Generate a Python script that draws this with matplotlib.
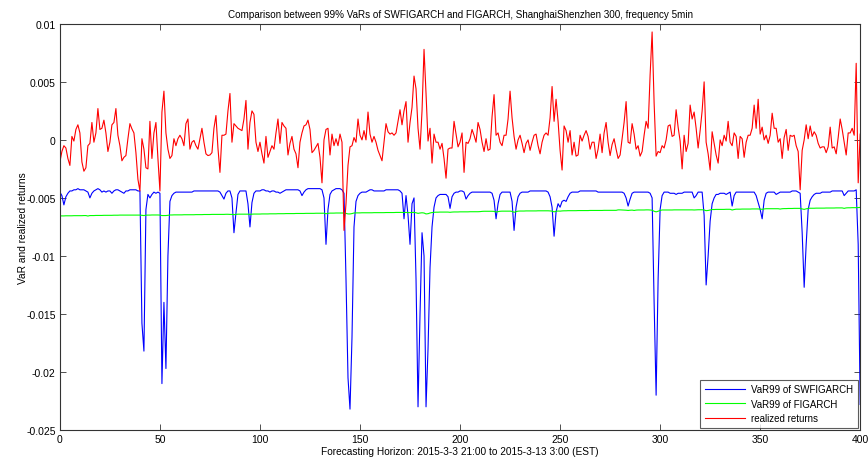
import numpy as np
import matplotlib
matplotlib.use("Agg")
import matplotlib.pyplot as plt

# --- data (values in units of 1e-3) ---
realized_returns = [
    -1.9, -1.0, -0.5, -0.7, -1.6, -2.2, 0.3, -0.1, 0.9, 1.3,
    0.6, -1.9, -2.7, -2.4, -0.5, -0.3, 1.5, -0.2, 0.6, 2.7,
    0.9, 1.0, 1.7, 0.6, -1.0, -0.2, 1.3, 1.5, 2.7, 0.4,
    -0.5, -1.8, -1.5,
    -1.35, 0.1, 1.4, 0.95, 0.6, -1.1, -3.4, -4.4, 0.1, -0.8,
    -2.4, -2.5, 1.6, -1.6, 0.6, 1.5, -1.6, -4.4, 2.4, 4.2,
    0.6, -0.8, -1.6, -1.35, 0.1, -0.5, 0.1, 0.4, 0.1, -0.5,
    1.4, 1.8, -0.8, -0.2, -0.05,
    -0.5, -0.8, 0.1, 1.0, -0.2, -1.2, -1.35, -1.3, -1.1, 1.0,
    2.1, -0.7, -2.8, 0.4, 0.4, 0.5, 2.5, 4.0, -0.2, 1.4,
    1.2, 1.0, 0.9, 0.8, 1.8, 3.4, -0.8, 1.5, 2.5, 2.2,
    -0.2, -1.0, -0.2,
    -1.2, -2.0, 0.3, -1.5, -1.0, -0.5, -0.8, 0.6, 1.8, -0.3,
    1.5, 1.2, 1.0, -1.3, -0.3, 0.3, -0.8, -1.2, -2.4, -0.2,
    0.6, 1.2, 1.3, 1.7, 0.9, -1.1, -0.9, -0.6, -0.3, -1.5,
    -3.7, 0.0, 0.9, 1.0,
    -1.3, 0.5, -0.5, 0.1, -0.5, 0.5, -0.2, -7.8, -5.5, -2.2,
    -0.6, -0.5, 0.2, -0.2, 1.8, 0.4, 0.0, 0.8, 0.0, 2.4,
    0.5, -0.2, 0.3, -0.2, -0.9, -1.35, -1.8, -0.2, 1.4, 0.7,
    0.5, 0.6, 0.4,
    0.6, 1.6, 2.6, 1.3, 2.5, 3.3, -0.2, 1.5, 2.8, 5.5,
    4.4, 1.0, -0.8, 2.5, 7.8, 4.0, -0.1, 1.0, -2.0, 0.5,
    -0.2, -0.2, -0.8, -0.3, -1.6, -3.3, -0.8, -0.7, -0.7, 1.6,
    0.5, -0.6, -0.2, 0.6,
    -2.8, -0.2, -0.3, 0.1, 0.9, 0.4, -0.2, 1.5, 0.9, -0.2,
    -1.0, 0.1, -0.9, -0.8, 2.0, 3.9, 0.4, 0.6, -0.2, -0.5,
    0.4, 0.4, 1.8, 4.2, 1.9, 0.3, -0.8, 0.0, 0.4, -0.3,
    -1.1, -0.3, 0.0,
    -0.9, -0.2, 0.4, 0.5, -0.5, -1.2, -0.2, 0.4, 0.6, 0.4,
    1.9, 4.6, 1.6, 3.5, 1.6, -0.9, -2.6, 1.2, 0.8, -0.2,
    0.8, -1.3, -0.2, -1.4, -1.3, 0.4, -0.1, 0.4, 0.8, 0.3,
    -0.8, -0.2, -0.2, -1.6,
    -0.8, 0.5, -1.1, 0.6, 1.5, -0.2, -1.35, -0.4, 0.1, -0.8,
    -1.6, -1.3, 0.1, 1.5, 3.3, -0.2, -0.3, 1.4, 0.5, -0.8,
    -0.5, -1.4, -1.0, 0.4, 1.6, 1.0, 5.6, 9.3, 3.2, -1.4,
    -1.0, -1.1, -0.5,
    -0.7, 0.0, 1.2, 1.3, 0.3, 0.4, 2.6, 1.1, -0.1, -2.5,
    0.4, -1.0, -0.3, 3.0, 1.8, 2.4, 1.0, -0.7, 0.8, 2.5,
    5.0, -0.2, -1.2, -2.6, 0.7, -0.3, -1.3, -2.0, 0.0, -0.5,
    0.4, -0.1, 1.6, -0.2,
    -0.5, 0.6, 0.3, -1.6, 0.3, 0.1, -1.5, -0.2, 0.4, 0.4,
    1.0, 3.0, 1.0, 3.5, 0.5, 1.1, 0.0, 0.4, -0.3, 0.4,
    2.3, 1.0, 1.0, -0.2, 0.1, -1.6, 0.2, 0.9, -0.9, 0.4,
    0.3, 0.4, -0.5,
    -1.0, -4.3, -0.9, 0.0, 1.3, 0.1, 1.2, 0.3, 0.7, 0.4,
    -0.3, -0.7, -0.6, -0.6, -1.1, -0.6, 1.1, -0.7, -0.6, -1.2,
    0.2, 1.8, 0.9, -0.2, -1.3, 0.6, 0.6, 1.0, 0.4, 6.6,
    -3.7, 0.5,
]

var_swfigarch = [
    -4.5, -4.8, -5.6, -4.9, -4.6, -4.4, -4.4, -4.3, -4.3, -4.2,
    -4.3, -4.3, -4.3, -4.4, -4.5, -5.0, -4.6, -4.4, -4.3, -4.2,
    -4.3, -4.5, -4.4, -4.5, -4.4, -4.4, -4.6, -4.4, -4.3, -4.3,
    -4.4, -4.5, -4.6,
    -4.4, -4.4, -4.3, -4.3, -4.3, -4.3, -4.4, -4.4, -15.8, -18.2,
    -6.0, -4.7, -5.0, -4.7, -4.5, -4.6, -4.5, -4.6, -21.0, -14.0,
    -19.7, -10.0, -5.3, -4.8, -4.6, -4.5, -4.5, -4.5, -4.5, -4.5,
    -4.5, -4.5, -4.5, -4.5, -4.4,
    -4.4, -4.4, -4.4, -4.4, -4.4, -4.4, -4.4, -4.4, -4.4, -4.4,
    -4.4, -4.4, -4.5, -4.8, -5.1, -4.6, -4.4, -4.4, -5.0, -8.0,
    -6.3, -4.7, -4.4, -4.4, -4.4, -4.4, -5.5, -7.5, -5.4, -4.6,
    -4.4, -4.4, -4.4,
    -4.3, -4.3, -4.4, -4.4, -4.5, -4.4, -4.4, -4.5, -4.5, -4.6,
    -4.5, -4.4, -4.3, -4.3, -4.3, -4.3, -4.3, -4.3, -4.3, -4.4,
    -4.8, -4.5, -4.3, -4.2, -4.2, -4.2, -4.2, -4.2, -4.2, -4.2,
    -4.3, -5.0, -9.0, -6.0,
    -4.7, -4.4, -4.3, -4.2, -4.2, -4.2, -4.3, -4.6, -12.0, -20.5,
    -23.2, -17.0, -7.5, -5.3, -4.8, -4.6, -4.5, -4.5, -4.5, -4.4,
    -4.3, -4.3, -4.4, -4.4, -4.4, -4.4, -4.4, -4.4, -4.3, -4.3,
    -4.3, -4.3, -4.3,
    -4.3, -4.3, -4.4, -4.6, -6.8, -4.8, -6.5, -9.0, -5.5, -5.0,
    -12.0, -23.0, -15.0, -8.0, -10.0, -23.0, -18.0, -11.0, -7.5, -5.8,
    -5.0, -4.8, -4.7, -4.7, -4.7, -4.7, -4.9, -5.9, -4.9, -4.6,
    -4.5, -4.5, -4.4, -4.4,
    -4.5, -5.1, -4.8, -4.6, -4.5, -4.5, -4.5, -4.5, -4.5, -4.5,
    -4.5, -4.5, -4.5, -4.5, -4.6, -5.2, -6.8, -5.5, -4.7, -4.5,
    -4.5, -4.5, -4.5, -4.5, -5.3, -7.8, -5.8, -4.9, -4.6, -4.5,
    -4.5, -4.5, -4.5,
    -4.4, -4.4, -4.4, -4.4, -4.4, -4.4, -4.4, -4.4, -4.4, -4.5,
    -4.9, -5.8, -8.3, -6.2, -5.5, -5.8, -5.3, -5.2, -5.3, -4.9,
    -4.6, -4.5, -4.5, -4.5, -4.5, -4.4, -4.4, -4.4, -4.4, -4.4,
    -4.4, -4.4, -4.4, -4.4,
    -4.5, -4.5, -4.5, -4.5, -4.5, -4.5, -4.5, -4.5, -4.5, -4.5,
    -4.5, -4.5, -4.5, -4.6, -5.0, -5.7, -5.1, -4.6, -4.5, -4.5,
    -4.5, -4.5, -4.5, -4.5, -4.5, -4.5, -4.6, -5.0, -14.0, -22.0,
    -12.0, -6.0, -4.8,
    -4.5, -4.5, -4.5, -4.6, -4.6, -4.6, -4.7, -4.6, -4.6, -4.6,
    -4.5, -4.5, -4.5, -4.5, -4.5, -5.0, -4.8, -4.5, -4.5, -4.5,
    -6.5, -12.5, -10.0, -7.0, -5.5, -5.0, -4.7, -4.7, -4.6, -4.6,
    -4.6, -4.7, -4.6, -4.5,
    -5.7, -4.8, -4.5, -4.5, -4.5, -4.5, -4.5, -4.5, -4.5, -4.5,
    -4.5, -4.5, -4.8, -5.4, -6.0, -6.8, -5.2, -4.6, -4.5, -4.5,
    -4.5, -4.5, -4.7, -4.6, -4.5, -4.5, -4.5, -4.5, -4.5, -4.5,
    -4.4, -4.4, -4.4,
    -4.5, -4.6, -8.0, -12.7, -9.0, -6.0, -5.2, -4.9, -4.7, -4.6,
    -4.6, -4.6, -4.5, -4.5, -4.5, -4.5, -4.5, -4.4, -4.4, -4.4,
    -4.4, -4.4, -4.4, -4.8, -4.6, -4.4, -4.4, -4.4, -4.4, -4.3,
    -9.0, -22.8,
]

var_figarch = [
    -6.55, -6.55, -6.55, -6.54, -6.54, -6.54, -6.54, -6.53, -6.53, -6.53,
    -6.53, -6.53, -6.52, -6.52, -6.56, -6.52, -6.52, -6.52, -6.51, -6.51,
    -6.51, -6.51, -6.50, -6.50, -6.50, -6.50, -6.50, -6.49, -6.49, -6.49,
    -6.48, -6.48, -6.48,
    -6.48, -6.48, -6.48, -6.48, -6.48, -6.48, -6.48, -6.48, -6.50, -6.52,
    -6.49, -6.48, -6.48, -6.47, -6.47, -6.47, -6.47, -6.48, -6.52, -6.52,
    -6.52, -6.50, -6.47, -6.47, -6.46, -6.46, -6.46, -6.46, -6.46, -6.45,
    -6.45, -6.45, -6.45, -6.45, -6.45,
    -6.44, -6.44, -6.44, -6.44, -6.43, -6.43, -6.43, -6.43, -6.42, -6.42,
    -6.42, -6.42, -6.42, -6.42, -6.42, -6.41, -6.41, -6.42, -6.42, -6.44,
    -6.42, -6.40, -6.40, -6.40, -6.40, -6.40, -6.40, -6.42, -6.40, -6.39,
    -6.39, -6.39, -6.39,
    -6.38, -6.38, -6.38, -6.38, -6.37, -6.37, -6.37, -6.37, -6.36, -6.36,
    -6.36, -6.36, -6.35, -6.35, -6.35, -6.35, -6.35, -6.34, -6.34, -6.34,
    -6.34, -6.34, -6.33, -6.33, -6.33, -6.33, -6.33, -6.32, -6.32, -6.32,
    -6.32, -6.32, -6.36, -6.33,
    -6.31, -6.31, -6.31, -6.30, -6.30, -6.30, -6.30, -6.30, -6.33, -6.38,
    -6.38, -6.35, -6.30, -6.29, -6.29, -6.29, -6.28, -6.28, -6.28, -6.28,
    -6.28, -6.28, -6.27, -6.27, -6.27, -6.27, -6.27, -6.27, -6.26, -6.26,
    -6.26, -6.26, -6.26,
    -6.25, -6.25, -6.25, -6.25, -6.26, -6.25, -6.26, -6.27, -6.25, -6.25,
    -6.28, -6.33, -6.30, -6.28, -6.30, -6.38, -6.36, -6.30, -6.26, -6.24,
    -6.23, -6.23, -6.22, -6.22, -6.22, -6.22, -6.22, -6.24, -6.22, -6.21,
    -6.21, -6.21, -6.20, -6.20,
    -6.20, -6.20, -6.20, -6.19, -6.19, -6.19, -6.19, -6.19, -6.18, -6.16,
    -6.15, -6.15, -6.15, -6.15, -6.15, -6.16, -6.22, -6.18, -6.15, -6.14,
    -6.14, -6.14, -6.14, -6.14, -6.16, -6.24, -6.18, -6.14, -6.13, -6.13,
    -6.13, -6.12, -6.12,
    -6.12, -6.12, -6.12, -6.12, -6.11, -6.11, -6.11, -6.11, -6.11, -6.11,
    -6.12, -6.14, -6.20, -6.15, -6.13, -6.14, -6.12, -6.11, -6.11, -6.10,
    -6.10, -6.10, -6.10, -6.10, -6.09, -6.09, -6.09, -6.09, -6.09, -6.09,
    -6.08, -6.08, -6.08, -6.08,
    -6.08, -6.08, -6.08, -6.07, -6.07, -6.07, -6.07, -6.07, -6.07, -6.07,
    -6.03, -6.03, -6.04, -6.05, -6.06, -6.08, -6.06, -6.05, -6.08, -6.05,
    -6.04, -6.04, -6.04, -6.04, -6.03, -6.03, -6.04, -6.06, -6.15, -6.20,
    -6.15, -6.08, -6.04,
    -6.04, -6.04, -6.04, -6.04, -6.04, -6.03, -6.03, -6.03, -6.03, -6.03,
    -6.03, -6.03, -6.03, -6.03, -6.03, -6.04, -6.03, -6.02, -6.02, -6.02,
    -6.04, -6.10, -6.08, -6.04, -6.00, -6.00, -5.99, -5.99, -5.99, -5.99,
    -5.99, -5.98, -5.98, -5.98,
    -6.04, -6.00, -5.97, -5.97, -5.97, -5.96, -5.96, -5.96, -5.96, -5.96,
    -5.95, -5.95, -5.95, -5.95, -5.97, -5.98, -5.95, -5.93, -5.93, -5.93,
    -5.93, -5.93, -5.93, -5.93, -5.96, -5.93, -5.92, -5.92, -5.91, -5.91,
    -5.91, -5.90, -5.90,
    -5.90, -5.90, -5.95, -5.99, -5.94, -5.90, -5.89, -5.89, -5.89, -5.88,
    -5.88, -5.88, -5.88, -5.88, -5.87, -5.87, -5.87, -5.87, -5.87, -5.86,
    -5.86, -5.86, -5.86, -5.90, -5.86, -5.85, -5.85, -5.84, -5.84, -5.84,
    -5.83, -5.82,
]

y_ticks = [0.01, 0.005, 0, -0.005, -0.01, -0.015, -0.02, -0.025]
y_tick_labels = ["0.01", "0.005", "0", "-0.005", "-0.01", "-0.015", "-0.02", "-0.025"]
x_ticks = [0, 50, 100, 150, 200, 250, 300, 350, 400]

plt.rcParams['font.family'] = ['Liberation Sans', 'DejaVu Sans']

scale = 1e-3
t = np.arange(len(realized_returns))

fig = plt.figure(figsize=(8.68, 4.6), dpi=100, facecolor='white')
ax = fig.add_axes([0.069, 0.063, 0.922, 0.883])

line_swf, = ax.plot(t, np.array(var_swfigarch) * scale, color='#0000ff', lw=0.8)
line_fig, = ax.plot(t, np.array(var_figarch) * scale, color='#00ff00', lw=0.8)
line_ret, = ax.plot(t, np.array(realized_returns) * scale, color='#ff0000', lw=0.8)

ax.set_xlim(0, 400)
ax.set_ylim(-0.025, 0.01)
ax.set_xticks(x_ticks)
ax.set_yticks(y_ticks)
ax.set_yticklabels(y_tick_labels)
ax.tick_params(direction='in', top=True, right=True, labelsize=7.5, length=4, width=0.6,
               color='#333333', pad=3)
for sp in ax.spines.values():
    sp.set_linewidth(0.8)
    sp.set_color('#333333')

ax.set_title('Comparison between 99% VaRs of SWFIGARCH and FIGARCH, ShanghaiShenzhen 300, frequency 5min',
             fontsize=7.1, pad=5)
ax.set_xlabel('Forecasting Horizon: 2015-3-3 21:00 to 2015-3-13 3:00 (EST)', fontsize=7.3, labelpad=1)
ax.set_ylabel('VaR and realized returns', fontsize=7.3, labelpad=-1)

leg = ax.legend([line_swf, line_fig, line_ret],
                ['VaR99 of SWFIGARCH', 'VaR99 of FIGARCH', 'realized returns'],
                loc='lower right', fontsize=7, frameon=True, fancybox=False, edgecolor='#333333',
                handlelength=4.2, handletextpad=0.6, borderpad=0.45, labelspacing=0.45,
                borderaxespad=0.25)
leg.get_frame().set_linewidth(0.8)

fig.savefig('out.png', dpi=100, facecolor='white')
